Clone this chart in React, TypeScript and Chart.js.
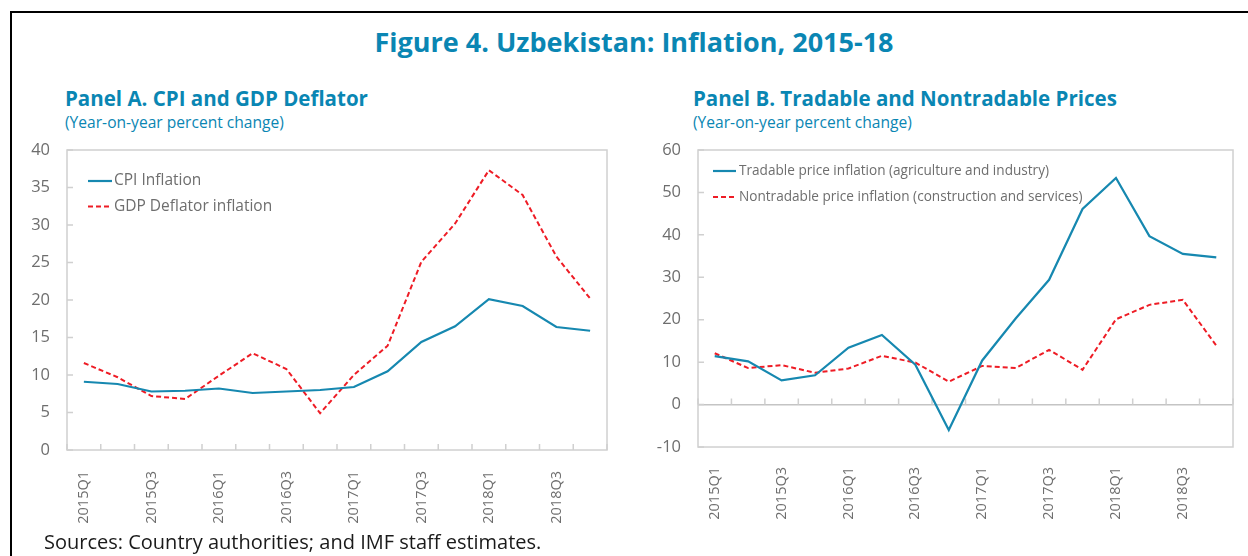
import React, { useEffect, useRef } from "react";
import { Chart, registerables } from "chart.js";

Chart.register(...registerables);

// ---------- Data ----------
const quarters = [
  "2015Q1", "2015Q2", "2015Q3", "2015Q4",
  "2016Q1", "2016Q2", "2016Q3", "2016Q4",
  "2017Q1", "2017Q2", "2017Q3", "2017Q4",
  "2018Q1", "2018Q2", "2018Q3", "2018Q4",
];

const cpiInflation = [9.1, 8.8, 7.8, 7.9, 8.2, 7.6, 7.8, 8.0, 8.4, 10.5, 14.4, 16.5, 20.1, 19.2, 16.4, 15.9];
const gdpDeflatorInflation = [11.6, 9.7, 7.2, 6.8, 9.9, 12.9, 10.8, 4.9, 10.0, 13.9, 25.1, 30.2, 37.3, 34.0, 25.8, 20.2];

const tradableInflation = [11.4, 10.2, 5.7, 6.9, 13.4, 16.4, 9.4, -6.0, 10.4, 20.3, 29.4, 46.1, 53.4, 39.7, 35.5, 34.7];
const nontradableInflation = [12.1, 8.6, 9.3, 7.5, 8.5, 11.5, 9.9, 5.4, 9.1, 8.6, 12.9, 8.2, 20.1, 23.5, 24.7, 13.9];

const panelAYTicks = [0, 5, 10, 15, 20, 25, 30, 35, 40];
const panelBYTicks = [-10, 0, 10, 20, 30, 40, 50, 60];

const FONT = "'Open Sans', 'Noto Sans', sans-serif";
const BLUE = "#1688b0";
const RED = "#ee1c25";
const TITLE_BLUE = "#0a86b3";
const GRAY_TEXT = "#6e6e6e";
const FRAME = "#d0d0d0";

// ---------- Plugins ----------
const framePlugin = {
  id: "frame",
  beforeDatasetsDraw(chart: any) {
    const { ctx, chartArea: a, scales } = chart;
    const x = scales.x;
    const y = scales.y;
    ctx.save();
    ctx.strokeStyle = FRAME;
    ctx.lineWidth = 1.5;
    ctx.strokeRect(a.left, a.top, a.right - a.left, a.bottom - a.top);
    ctx.beginPath();
    y.ticks.forEach((t: any) => {
      const py = y.getPixelForValue(t.value);
      ctx.moveTo(a.left, py);
      ctx.lineTo(a.left + 6, py);
    });
    const base = y.min < 0 ? y.getPixelForValue(0) : a.bottom;
    const n = chart.data.labels.length;
    for (let i = 0; i <= n; i++) {
      const px = x.getPixelForValue(i - 0.5);
      ctx.moveTo(px, base);
      ctx.lineTo(px, base - 6);
    }
    ctx.stroke();
    ctx.restore();
  },
};

const insideLegendPlugin = {
  id: "insideLegend",
  afterDatasetsDraw(chart: any, _args: any, opts: any) {
    const { ctx, chartArea: a } = chart;
    ctx.save();
    ctx.font = `${opts.fontSize}px ${FONT}`;
    ctx.textBaseline = "middle";
    ctx.textAlign = "left";
    chart.data.datasets.forEach((ds: any, i: number) => {
      const yy = a.top + opts.dy0 + i * opts.dyStep;
      const x0 = a.left + opts.dx;
      ctx.strokeStyle = ds.borderColor;
      ctx.lineWidth = ds.borderWidth;
      ctx.setLineDash(ds.borderDash || []);
      ctx.beginPath();
      ctx.moveTo(x0, yy);
      ctx.lineTo(x0 + opts.lineLen, yy);
      ctx.stroke();
      ctx.setLineDash([]);
      ctx.fillStyle = GRAY_TEXT;
      ctx.fillText(ds.label, x0 + opts.lineLen + opts.gap, yy);
    });
    ctx.restore();
  },
};

// ---------- Chart component ----------
type PanelProps = {
  width: number;
  height: number;
  labelsList: string[];
  series: { label: string; data: number[]; color: string; dashed: boolean }[];
  yTicks: number[];
  yAxisWidth: number;
  xAxisHeight: number;
  padRight: number;
  xLabelPad: number;
  zeroLine: boolean;
  legend: { dx: number; dy0: number; dyStep: number; lineLen: number; gap: number; fontSize: number };
};

function Panel(p: PanelProps) {
  const ref = useRef<HTMLCanvasElement | null>(null);
  useEffect(() => {
    if (!ref.current) return;
    const yMin = p.yTicks[0];
    const yMax = p.yTicks[p.yTicks.length - 1];
    const step = p.yTicks[1] - p.yTicks[0];
    const chart = new Chart(ref.current, {
      type: "line",
      data: {
        labels: p.labelsList,
        datasets: p.series.map((s) => ({
          label: s.label,
          data: s.data,
          borderColor: s.color,
          backgroundColor: s.color,
          borderWidth: s.dashed ? 2 : 2.2,
          borderDash: s.dashed ? [5, 3] : [],
          pointRadius: 0,
          tension: 0,
          fill: false,
        })),
      },
      options: {
        responsive: false,
        animation: false,
        layout: { padding: { top: 10, right: p.padRight, left: 0, bottom: 0 } },
        plugins: {
          legend: { display: false },
          tooltip: { enabled: false },
          insideLegend: p.legend,
        } as any,
        scales: {
          x: {
            type: "category",
            offset: true,
            grid: { display: false },
            border: { display: false },
            afterFit: (scale: any) => {
              scale.height = p.xAxisHeight;
              scale.paddingLeft = 0;
              scale.paddingRight = 0;
            },
            ticks: {
              autoSkip: false,
              minRotation: 90,
              maxRotation: 90,
              padding: p.xLabelPad,
              color: GRAY_TEXT,
              font: { family: FONT, size: 14.5 },
              callback: function (this: any, value: any, index: number) {
                return index % 2 === 0 ? this.getLabelForValue(value) : "";
              },
            },
          },
          y: {
            min: yMin,
            max: yMax,
            border: { display: false },
            grid: {
              display: p.zeroLine,
              drawTicks: false,
              lineWidth: 1.5,
              color: (c: any) => (c.tick && c.tick.value === 0 ? "#c4c4c4" : "rgba(0,0,0,0)"),
            },
            afterFit: (scale: any) => {
              scale.width = p.yAxisWidth;
              scale.paddingTop = 0;
              scale.paddingBottom = 0;
            },
            ticks: {
              stepSize: step,
              padding: 17,
              color: GRAY_TEXT,
              font: { family: FONT, size: 16.5 },
            },
          },
        },
      },
      plugins: [framePlugin, insideLegendPlugin],
    });
    return () => chart.destroy();
  }, []);
  return <canvas ref={ref} width={p.width} height={p.height} style={{ display: "block" }} />;
}

export default function App() {
  const text = (style: React.CSSProperties, content: string) => (
    <div style={{ position: "absolute", whiteSpace: "nowrap", lineHeight: 1, fontFamily: FONT, ...style }}>{content}</div>
  );
  return (
    <div style={{ position: "absolute", left: 0, top: 0, width: 1248, height: 556, background: "#fff", overflow: "hidden" }}>
      <div style={{ position: "absolute", left: 10, top: 11, width: 1300, height: 600, borderTop: "2px solid #000", borderLeft: "2px solid #000" }} />
      <div style={{ position: "absolute", left: 20, top: 140 }}>
        <Panel
          width={600}
          height={400}
          labelsList={quarters}
          series={[
            { label: "CPI Inflation", data: cpiInflation, color: BLUE, dashed: false },
            { label: "GDP Deflator inflation", data: gdpDeflatorInflation, color: RED, dashed: true },
          ]}
          yTicks={panelAYTicks}
          yAxisWidth={47}
          xAxisHeight={90}
          padRight={13}
          xLabelPad={13}
          zeroLine={false}
          legend={{ dx: 21, dy0: 31, dyStep: 25.5, lineLen: 24, gap: 2, fontSize: 15.5 }}
        />
      </div>
      <div style={{ position: "absolute", left: 640, top: 140 }}>
        <Panel
          width={605}
          height={400}
          labelsList={quarters}
          series={[
            { label: "Tradable price inflation (agriculture and industry)", data: tradableInflation, color: BLUE, dashed: false },
            { label: "Nontradable price inflation (construction and services)", data: nontradableInflation, color: RED, dashed: true },
          ]}
          yTicks={panelBYTicks}
          yAxisWidth={58}
          xAxisHeight={93}
          padRight={12}
          xLabelPad={12}
          zeroLine={true}
          legend={{ dx: 15, dy0: 21, dyStep: 26, lineLen: 23, gap: 3, fontSize: 13.6 }}
        />
      </div>
      {text({ left: 0, width: 1268, textAlign: "center", top: 28, fontSize: 27, fontWeight: 700, color: TITLE_BLUE }, "Figure 4. Uzbekistan: Inflation, 2015-18")}
      {text({ left: 65, top: 87.5, fontSize: 20.5, fontWeight: 700, color: TITLE_BLUE }, "Panel A. CPI and GDP Deflator")}
      {text({ left: 65, top: 114.5, fontSize: 15.6, color: TITLE_BLUE }, "(Year-on-year percent change)")}
      {text({ left: 693, top: 87.5, fontSize: 20.5, fontWeight: 700, color: TITLE_BLUE }, "Panel B. Tradable and Nontradable Prices")}
      {text({ left: 693, top: 114.5, fontSize: 15.6, color: TITLE_BLUE }, "(Year-on-year percent change)")}
      {text({ left: 44, top: 532, fontSize: 20, color: "#1a1a1a" }, "Sources: Country authorities; and IMF staff estimates.")}
    </div>
  );
}
